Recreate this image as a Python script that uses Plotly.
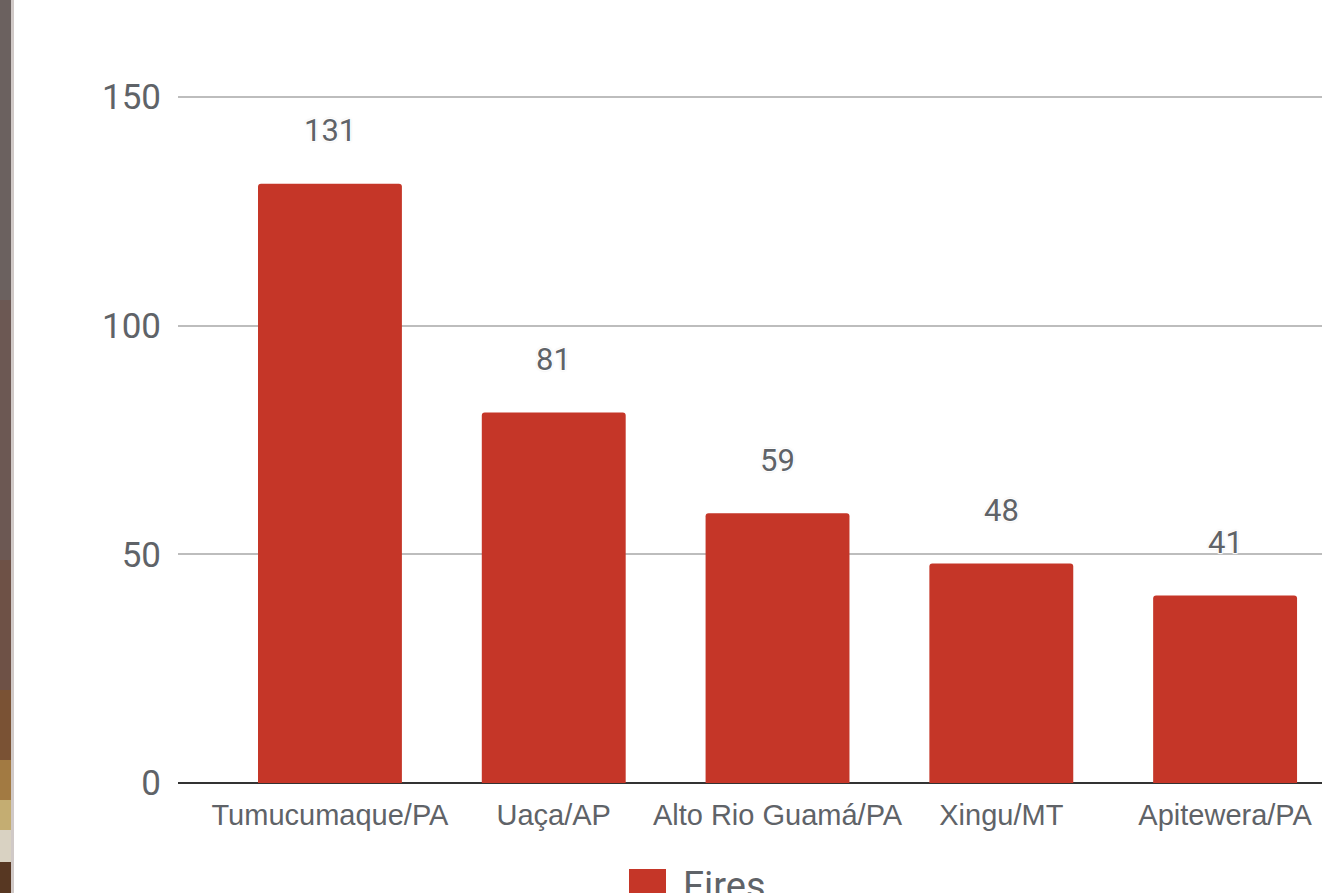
import plotly.graph_objects as go

categories = ["Tumucumaque/PA", "Uaça/AP", "Alto Rio Guamá/PA", "Xingu/MT", "Apitewera/PA"]
fires = [131, 81, 59, 48, 41]
series_name = "Fires"
y_ticks = [0, 50, 100, 150]

BAR = "#c53628"
TXT = "#5f6368"

W, H = 1322, 893
ML, MR, MT, MB = 178, 0, 0, 110
PW, PH = W - ML - MR, H - MT - MB

fig = go.Figure()
fig.add_trace(go.Bar(
    x=categories, y=fires, name=series_name,
    marker=dict(color=BAR, cornerradius=3, line=dict(width=0)),
    showlegend=False, hoverinfo="skip",
))

halo = "1px 1px 1px #fff, -1px -1px 1px #fff, 1px -1px 1px #fff, -1px 1px 1px #fff, 0 0 3px #bbb"
for c, v in zip(categories, fires):
    fig.add_annotation(x=c, y=v, text=str(v), showarrow=False, yshift=53,
                       yanchor="middle", xanchor="center",
                       font=dict(family="Roboto", size=31, color=TXT, shadow=halo))

# custom legend (large swatch) below the axis
def px_x(p):
    return (p - ML) / PW
def px_y(p):
    return (H - MB - p) / PH

fig.add_shape(type="rect", xref="paper", yref="paper",
              x0=px_x(629), x1=px_x(666), y0=px_y(906), y1=px_y(869),
              fillcolor=BAR, line=dict(width=0), layer="above")
fig.add_annotation(xref="paper", yref="paper", x=px_x(681), y=px_y(869),
                   xanchor="left", yanchor="top", showarrow=False, text=series_name,
                   font=dict(family="Roboto", size=38, color=TXT), yshift=7)

# dark photographic strip on the left edge
strip = [(0, 300, "#6b615f"), (300, 560, "#6c5853"), (560, 690, "#6e5146"),
         (690, 760, "#7a5234"), (760, 800, "#a27a42"), (800, 830, "#c4ad72"),
         (830, 862, "#d9d2c2"), (862, 893, "#573722")]
for a, b, col in strip:
    fig.add_shape(type="rect", xref="paper", yref="paper",
                  x0=px_x(0), x1=px_x(11), y0=px_y(b), y1=px_y(a),
                  fillcolor=col, line=dict(width=0), layer="above")
fig.add_shape(type="rect", xref="paper", yref="paper",
              x0=px_x(11), x1=px_x(14), y0=px_y(893), y1=px_y(0),
              fillcolor="rgba(120,100,95,0.35)", line=dict(width=0), layer="above")

fig.update_layout(
    width=W, height=H,
    margin=dict(l=ML, r=MR, t=MT, b=MB),
    paper_bgcolor="white", plot_bgcolor="white",
    bargap=0.357,
    showlegend=False,
    xaxis=dict(
        range=[-0.679, 4.433], showgrid=False, zeroline=False, showline=False,
        ticks="", tickfont=dict(family="Liberation Sans", size=29, color=TXT),
        ticklabelstandoff=12, fixedrange=True,
    ),
    yaxis=dict(
        range=[0, 171.2], tickvals=y_ticks, showgrid=True, gridcolor="#bdbdbd",
        gridwidth=1.5, zeroline=True, zerolinecolor="#333333", zerolinewidth=1.5,
        showline=False, ticks="", tickfont=dict(family="Roboto", size=35, color=TXT),
        ticklabelstandoff=16, fixedrange=True,
    ),
)

fig.write_html("out.html", config={"displayModeBar": False},
               post_script="document.body.style.margin='0';document.body.style.overflow='hidden';")
